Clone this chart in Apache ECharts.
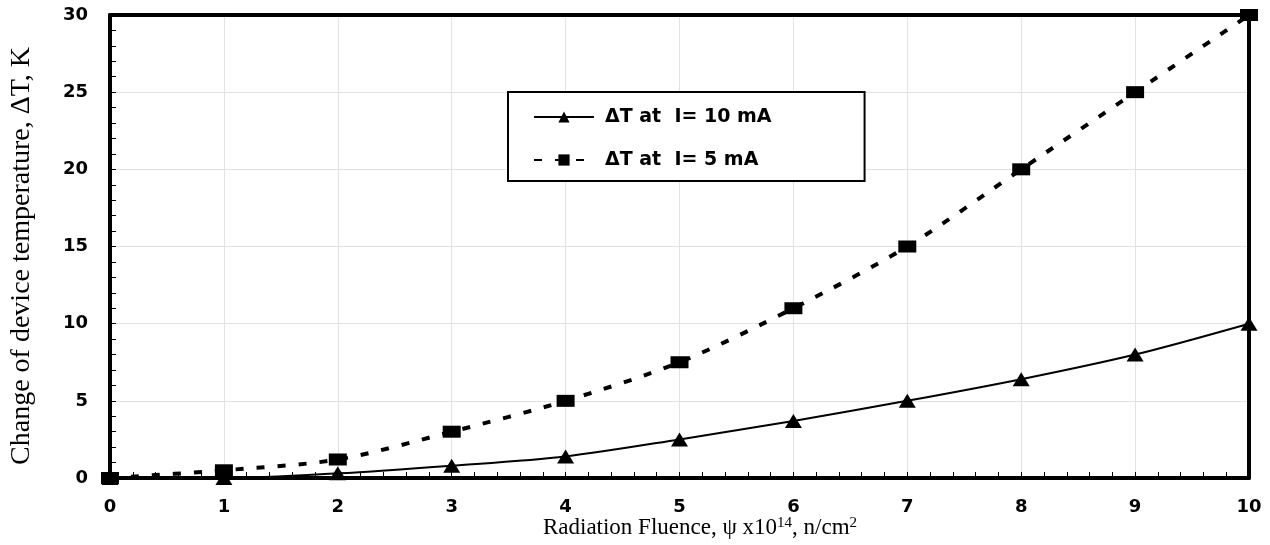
<!DOCTYPE html>
<html>
<head>
<meta charset="utf-8">
<script src="https://cdn.jsdelivr.net/npm/echarts@6/dist/echarts.min.js"></script>
<style>
  html, body { margin: 0; padding: 0; background: #fff; }
  #chart { width: 1270px; height: 545px; }
</style>
</head>
<body>
<div id="chart"></div>
<script>
// Fluence values (x 10^14 n/cm^2)
const fluence = [0, 1, 2, 3, 4, 5, 6, 7, 8, 9, 10];
// Temperature rise, K
const dT10mA = [0, 0, 0.3, 0.8, 1.4, 2.5, 3.7, 5, 6.4, 8, 10];
const dT5mA = [0, 0.5, 1.2, 3, 5, 7.5, 11, 15, 20, 25, 30];
const seriesNames = ['\u0394T at  I= 10 mA', '\u0394T at  I= 5 mA'];

const pairs = (xs, ys) => xs.map((x, i) => [x, ys[i]]);

const chart = echarts.init(document.getElementById('chart'));
const tickFont = { fontFamily: 'DejaVu Sans, sans-serif', fontWeight: 'bold', fontSize: 18, color: '#000' };
const serif = 'Liberation Serif, Times New Roman, serif';
const frameLine = { show: true, onZero: false, lineStyle: { color: '#000', width: 4 } };

// plain axis used only to close the frame on the top and right sides
const frameAxis = (extra) => Object.assign({
  type: 'value',
  axisLine: frameLine,
  axisTick: { show: false },
  axisLabel: { show: false },
  splitLine: { show: false }
}, extra);

chart.setOption({
  animation: false,
  backgroundColor: '#fff',
  grid: {
    left: 110, right: 21, top: 15, bottom: 67,
    outerBoundsMode: 'none',
    containLabel: false
  },
  legend: {
    orient: 'vertical',
    left: 508, top: 92,
    padding: [14, 93, 10, 25],
    itemGap: 21,
    itemWidth: 60, itemHeight: 14,
    borderColor: '#000', borderWidth: 2,
    backgroundColor: '#fff',
    textStyle: { fontFamily: 'DejaVu Sans, sans-serif', fontWeight: 'bold', fontSize: 19, color: '#000', lineHeight: 22, padding: [0, 0, 0, 6] },
    data: seriesNames
  },
  graphic: [
    {
      type: 'text',
      x: 700, y: 528,
      style: {
        text: '{n|Radiation Fluence, \u03c8 x10}{s|14}{n|, n/cm}{s|2}',
        align: 'center', verticalAlign: 'middle',
        rich: {
          n: { fontFamily: serif, fontSize: 23, fill: '#000' },
          s: { fontFamily: serif, fontSize: 15, fill: '#000', verticalAlign: 'bottom', padding: [0, 0, 10, 0] }
        }
      }
    },
    {
      type: 'text',
      x: 22, y: 256,
      rotation: Math.PI / 2,
      style: {
        text: 'Change of device temperature, \u0394T, K',
        align: 'center', verticalAlign: 'middle',
        fontFamily: serif, fontSize: 28, fill: '#000'
      }
    }
  ],
  xAxis: [
    {
      type: 'value', min: 0, max: 10, interval: 1,
      axisLine: frameLine,
      axisTick: { show: true, inside: true, length: 6, lineStyle: { color: '#000', width: 1 } },
      minorTick: { show: true, splitNumber: 5, length: 6, lineStyle: { color: '#000', width: 1 } },
      axisLabel: Object.assign({ margin: 20 }, tickFont),
      splitLine: { show: true, lineStyle: { color: '#e2e2e2', width: 1 } }
    },
    frameAxis({ position: 'top', min: 0, max: 10 })
  ],
  yAxis: [
    {
      type: 'value', min: 0, max: 30, interval: 5,
      axisLine: frameLine,
      axisTick: { show: true, inside: true, length: 6, lineStyle: { color: '#000', width: 1 } },
      minorTick: { show: true, splitNumber: 5, length: 6, lineStyle: { color: '#000', width: 1 } },
      axisLabel: Object.assign({ margin: 22 }, tickFont),
      splitLine: { show: true, lineStyle: { color: '#e2e2e2', width: 1 } }
    },
    frameAxis({ position: 'right', min: 0, max: 30 })
  ],
  series: [
    {
      name: seriesNames[0],
      type: 'line',
      data: pairs(fluence, dT10mA),
      smooth: 0.3,
      clip: false,
      symbol: 'triangle', symbolSize: [17, 14],
      itemStyle: { color: '#000' },
      lineStyle: { color: '#000', width: 2 },
      z: 3
    },
    {
      name: seriesNames[1],
      type: 'line',
      data: pairs(fluence, dT5mA),
      smooth: 0.3,
      clip: false,
      symbol: 'rect', symbolSize: [18, 12],
      itemStyle: { color: '#000' },
      lineStyle: { color: '#000', width: 4, type: [8, 13] },
      z: 3
    }
  ]
});
</script>
</body>
</html>
